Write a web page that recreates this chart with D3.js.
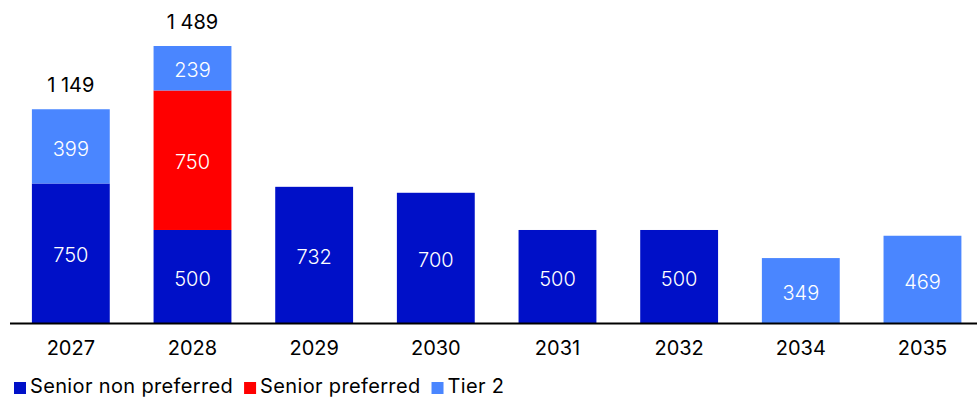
<!DOCTYPE html>
<html>
<head>
<meta charset="utf-8">
<script src="https://cdn.jsdelivr.net/npm/d3@7"></script>
<style>
  html, body { margin: 0; padding: 0; background: #fff; }
  svg { display: block; font-family: Inter, "Noto Sans", sans-serif; }
</style>
</head>
<body>
<svg id="chart" width="977" height="399"></svg>
<script>
// Maturity profile by year and debt type
const categories = ["2027", "2028", "2029", "2030", "2031", "2032", "2034", "2035"];
const seniorNonPreferred = [750, 500, 732, 700, 500, 500, 0, 0];
const seniorPreferred = [0, 750, 0, 0, 0, 0, 0, 0];
const tier2 = [399, 239, 0, 0, 0, 0, 349, 469];
const seriesNames = ["Senior non preferred", "Senior preferred", "Tier 2"];
const seriesColors = ["#0010c8", "#ff0000", "#4a86ff"];

const rows = categories.map((c, i) => ({
  year: c,
  snp: seniorNonPreferred[i],
  sp: seniorPreferred[i],
  t2: tier2[i]
}));
const keys = ["snp", "sp", "t2"];
const totals = rows.map(r => r.snp + r.sp + r.t2);

const svg = d3.select("#chart");
const baseY = 323;

const x = d3.scaleBand()
  .domain(categories)
  .range([10, 983.3])
  .paddingInner(0.36)
  .paddingOuter(0.18);

const y = d3.scaleLinear()
  .domain([0, d3.max(totals)])
  .range([baseY, 46]);

const stack = d3.stack().keys(keys)(rows);
const color = d3.scaleOrdinal().domain(keys).range(seriesColors);

// Stacked bars
const layers = svg.append("g").selectAll("g")
  .data(stack)
  .join("g")
  .attr("fill", d => color(d.key));

layers.selectAll("rect")
  .data(d => d.filter(s => s[1] - s[0] > 0))
  .join("rect")
  .attr("x", d => x(d.data.year))
  .attr("width", x.bandwidth())
  .attr("y", d => y(d[1]))
  .attr("height", d => y(d[0]) - y(d[1]));

// Segment value labels
layers.selectAll("text")
  .data(d => d.filter(s => s[1] - s[0] > 0).map(s => ({ s, key: d.key })))
  .join("text")
  .attr("x", d => x(d.s.data.year) + x.bandwidth() / 2)
  .attr("y", d => (y(d.s[0]) + y(d.s[1])) / 2 + 2)
  .attr("dy", "0.36em")
  .attr("text-anchor", "middle")
  .attr("fill", "#fff")
  .attr("font-size", 20)
  .attr("font-weight", 300)
  .text(d => d.s[1] - d.s[0]);

// Totals above stacked bars with more than one segment
const fmt = v => d3.format(",")(v).replace(/,/g, " ");
svg.append("g").selectAll("text")
  .data(rows.map((r, i) => ({ r, total: totals[i] })).filter(d => keys.filter(k => d.r[k] > 0).length > 1))
  .join("text")
  .attr("x", d => x(d.r.year) + x.bandwidth() / 2)
  .attr("y", d => y(d.total) - 24)
  .attr("dy", "0.36em")
  .attr("text-anchor", "middle")
  .attr("fill", "#000")
  .attr("font-size", 20)
  .text(d => fmt(d.total));

// Category axis
const axis = svg.append("g")
  .attr("transform", `translate(0,${baseY})`)
  .call(d3.axisBottom(x).tickSize(0).tickPadding(18));
axis.select(".domain").remove();
axis.selectAll("text")
  .attr("font-size", 20)
  .attr("font-family", "Inter, 'Noto Sans', sans-serif")
  .attr("fill", "#000");

svg.append("line")
  .attr("x1", 10).attr("x2", 977)
  .attr("y1", baseY + 0.5).attr("y2", baseY + 0.5)
  .attr("stroke", "#000")
  .attr("stroke-width", 2);

// Legend
const legend = svg.append("g").attr("transform", "translate(14,387)");
let lx = 0;
seriesNames.forEach((name, i) => {
  const g = legend.append("g").attr("transform", `translate(${lx},0)`);
  g.append("rect").attr("x", 0).attr("y", -5).attr("width", 12).attr("height", 12).attr("fill", seriesColors[i]);
  const t = g.append("text")
    .attr("x", 16).attr("y", 0).attr("dy", "0.3em")
    .attr("font-size", 20).attr("letter-spacing", 0.35).attr("fill", "#000")
    .text(name);
  lx += 16 + t.node().getComputedTextLength() + 11;
});
</script>
</body>
</html>
